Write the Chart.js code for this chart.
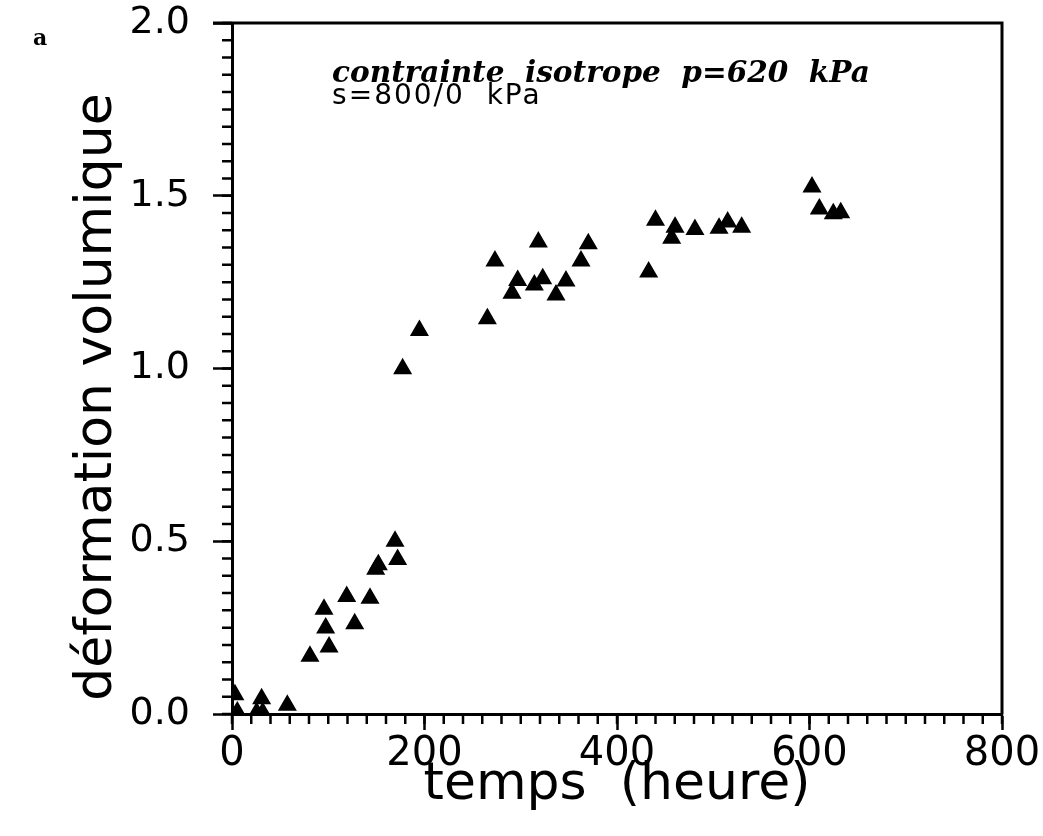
<!DOCTYPE html>
<html>
<head>
<meta charset="utf-8">
<script src="https://cdn.jsdelivr.net/npm/chart.js@4"></script>
<style>
  body { margin: 0; background: #fff; }
  canvas { display: block; }
</style>
</head>
<body>
<canvas id="chart" width="1043" height="836"></canvas>
<script>
// temps (heure) / déformation volumique (%)
const temps = [3, 5.5, 25.6, 30.8, 31.9, 57.5, 81, 95.6, 97.3, 100.8, 119.2, 127.5, 143.4, 149.3, 152,
  169.4, 172.1, 177.3, 194.7, 265.3, 273.2, 290.9, 296.8, 314.1, 318.3, 322.8, 336.6, 347, 362.6, 370.2,
  432.9, 440, 456.8, 460.3, 481, 506, 515, 529.5, 602.6, 610.2, 624.7, 632.4]
const deformation = [0.056, 0.006, 0.004, 0.044, 0.004, 0.025, 0.167, 0.303, 0.249, 0.194, 0.340, 0.261, 0.335, 0.419, 0.432,
  0.500, 0.447, 0.999, 1.110, 1.144, 1.311, 1.218, 1.255, 1.242, 1.366, 1.260, 1.213, 1.253, 1.311, 1.361,
  1.279, 1.429, 1.377, 1.409, 1.402, 1.406, 1.424, 1.409, 1.525, 1.462, 1.448, 1.451]

const xTicks = [0, 200, 400, 600, 800]
const yTicks = [0, 0.5, 1.0, 1.5, 2.0]
const yTitle = 'déformation volumique'
const annotation = ['contrainte  isotrope  p=620  kPa', 's=800/0  kPa']

const points = temps.map((t, i) => ({ x: t, y: deformation[i] }))

// petites graduations, cadre et textes
const extras = {
  id: 'extras',
  afterDraw(chart) {
    const c = chart.ctx
    const a = chart.chartArea
    const xs = chart.scales.x, ys = chart.scales.y
    c.save()
    c.strokeStyle = '#000'
    c.lineWidth = 2.5
    c.beginPath()
    for (let v = 0; v <= 800; v += 20) {
      const px = xs.getPixelForValue(v)
      c.moveTo(px, a.bottom); c.lineTo(px, a.bottom + 10)
    }
    for (let v = 0; v <= 2.0001; v += 0.05) {
      const py = ys.getPixelForValue(v)
      c.moveTo(a.left, py); c.lineTo(a.left - 10, py)
    }
    c.stroke()
    c.lineWidth = 3
    c.beginPath()
    c.moveTo(a.left - 19, a.top); c.lineTo(a.right, a.top); c.lineTo(a.right, a.bottom)
    c.stroke()

    c.fillStyle = '#000'
    c.textBaseline = 'alphabetic'
    c.textAlign = 'left'
    c.font = 'bold italic 29.5px "DejaVu Serif"'
    c.fillText(annotation[0], xs.getPixelForValue(104), ys.getPixelForValue(1.829))
    c.font = '28px "DejaVu Sans"'
    c.letterSpacing = '2px'
    c.fillText(annotation[1], xs.getPixelForValue(104), ys.getPixelForValue(1.766))
    c.letterSpacing = '0px'
    c.font = 'bold 22px "DejaVu Serif"'
    c.fillText('a', 33, 45)

    // titre de l'axe vertical
    c.translate(97, 397)
    c.rotate(-Math.PI / 2)
    c.textAlign = 'center'
    c.textBaseline = 'middle'
    c.font = '52px "DejaVu Sans"'
    c.fillText(yTitle, 0, 0)
    c.restore()
  }
}

new Chart(document.getElementById('chart'), {
  type: 'scatter',
  data: {
    datasets: [{
      data: points,
      pointStyle: 'triangle',
      pointRadius: 9.5,
      pointHoverRadius: 9.5,
      backgroundColor: '#000',
      borderColor: '#000',
      borderWidth: 1.5
    }]
  },
  options: {
    responsive: false,
    animation: false,
    layout: { padding: { top: 23, right: 41, left: 0, bottom: 0 } },
    plugins: { legend: { display: false }, tooltip: { enabled: false } },
    scales: {
      x: {
        min: 0, max: 800,
        afterFit: s => { s.height = 122; s.paddingLeft = 0; s.paddingRight = 0 },
        afterBuildTicks: s => { s.ticks = xTicks.map(v => ({ value: v })) },
        border: { display: true, color: '#000', width: 3 },
        grid: { drawOnChartArea: false, drawTicks: true, tickLength: 16, tickWidth: 2.5, tickColor: '#000' },
        ticks: { color: '#000', padding: 1, maxRotation: 0, font: { family: 'DejaVu Sans', size: 40 } },
        title: { display: true, text: 'temps  (heure)', color: '#000', padding: { top: 0, bottom: 25 },
          font: { family: 'DejaVu Sans', size: 52, lineHeight: 1 } }
      },
      y: {
        min: 0, max: 2,
        afterFit: s => { s.width = 232; s.paddingTop = 0; s.paddingBottom = 0 },
        afterBuildTicks: s => { s.ticks = yTicks.map(v => ({ value: v })) },
        border: { display: true, color: '#000', width: 3 },
        grid: { drawOnChartArea: false, drawTicks: true, tickLength: 19, tickWidth: 2.5, tickColor: '#000' },
        ticks: { color: '#000', padding: 23, callback: v => v.toFixed(1), font: { family: 'DejaVu Sans', size: 38 } }
      }
    }
  },
  plugins: [extras]
})
</script>
</body>
</html>
